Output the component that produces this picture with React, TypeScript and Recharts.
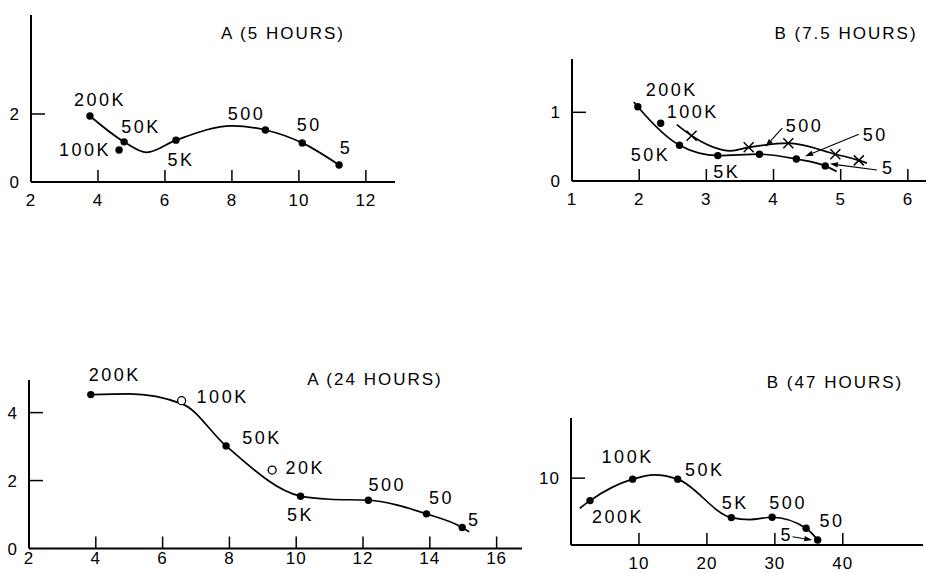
import React from 'react';
import { ComposedChart, Line, Scatter, XAxis, YAxis, ReferenceLine } from 'recharts';

// A (5 hours)
const A5_LABELS = ['200K', '100K', '50K', '5K', '500', '50', '5'];
const A5_X = [3.76, 4.63, 4.78, 6.33, 9.0, 10.1, 11.2];
const A5_Y = [1.94, 0.94, 1.18, 1.23, 1.53, 1.15, 0.5];
const A5_CURVE_X = [3.76, 4.78, 5.45, 6.33, 8.0, 9.0, 10.1, 11.2];
const A5_CURVE_Y = [1.94, 1.18, 0.87, 1.23, 1.65, 1.53, 1.15, 0.5];
const A5_X_TICKS = [2, 4, 6, 8, 10, 12];
const A5_Y_TICKS = [0, 2];

// B (7.5 hours)
const B75_LABELS = ['200K', '100K', '50K', '5K', '500', '50', '5'];
const B75_X = [1.98, 2.32, 2.6, 3.17, 3.79, 4.34, 4.77];
const B75_Y = [1.08, 0.84, 0.52, 0.37, 0.39, 0.32, 0.22];
const B75_LOWER_X = [1.92, 1.98, 2.6, 3.17, 3.79, 4.34, 4.77, 4.94];
const B75_LOWER_Y = [1.15, 1.08, 0.52, 0.37, 0.39, 0.32, 0.22, 0.14];
const B75_CROSS_X = [2.78, 3.63, 4.22, 4.92, 5.27];
const B75_CROSS_Y = [0.66, 0.49, 0.55, 0.39, 0.3];
const B75_UPPER_X = [2.56, 2.78, 3.36, 3.63, 4.22, 4.92, 5.27, 5.39];
const B75_UPPER_Y = [0.82, 0.66, 0.44, 0.49, 0.55, 0.39, 0.3, 0.26];
const B75_ARROW_FROM = [[4.13, 0.77], [5.27, 0.68], [5.54, 0.16]];
const B75_ARROW_TO = [[3.88, 0.5], [4.47, 0.36], [4.84, 0.25]];
const B75_X_TICKS = [1, 2, 3, 4, 5, 6];
const B75_Y_TICKS = [0, 1];

// A (24 hours)
const A24_LABELS = ['200K', '50K', '5K', '500', '50', '5'];
const A24_X = [3.85, 7.9, 10.13, 12.16, 13.9, 14.97];
const A24_Y = [4.53, 3.02, 1.54, 1.42, 1.02, 0.62];
const A24_OPEN_LABELS = ['100K', '20K'];
const A24_OPEN_X = [6.57, 9.28];
const A24_OPEN_Y = [4.35, 2.31];
const A24_CURVE_X = [3.85, 5.0, 6.6, 7.9, 10.13, 11.0, 12.16, 13.9, 14.97, 15.18];
const A24_CURVE_Y = [4.53, 4.55, 4.25, 3.02, 1.54, 1.45, 1.42, 1.02, 0.62, 0.49];
const A24_X_TICKS = [2, 4, 6, 8, 10, 12, 14, 16];
const A24_Y_TICKS = [0, 2, 4];

// B (47 hours)
const B47_LABELS = ['200K', '100K', '50K', '5K', '500', '50', '5'];
const B47_X = [2.8, 9.07, 15.7, 23.6, 29.6, 34.6, 36.3];
const B47_Y = [6.64, 9.85, 9.85, 4.1, 4.15, 2.5, 0.75];
const B47_CURVE_X = [1.3, 2.8, 9.07, 12.3, 15.7, 23.6, 26.3, 29.6, 34.6, 36.3];
const B47_CURVE_Y = [5.5, 6.64, 9.85, 10.5, 9.85, 4.1, 3.8, 4.15, 2.5, 0.75];
const B47_ARROW_FROM = [[32.6, 1.24]];
const B47_ARROW_TO = [[35.5, 0.75]];
const B47_X_TICKS = [10, 20, 30, 40];
const B47_Y_TICKS = [10];

const FONT = '"Liberation Sans", Arial, sans-serif';
const PAD = 40;

type Pt = { x: number; y: number; label: string };
const toPts = (xs: number[], ys: number[], labels?: string[]): Pt[] =>
  xs.map((x, i) => ({ x, y: ys[i], label: labels ? labels[i] : '' }));

// label offsets in px from the marker
const OFFSETS: Record<string, Record<string, [number, number]>> = {
  a5: { '200K': [10, -16], '100K': [-34, 0], '50K': [17, -15], '5K': [5, 20], '500': [-19, -16], '50': [7, -18], '5': [7, -17] },
  b75: { '200K': [34, -17], '100K': [32, -11], '50K': [-29, 10], '5K': [9, 16], '500': [45, -28], '50': [79, -24], '5': [63, 2] },
  a24: { '200K': [24, -20], '100K': [41, -4], '50K': [36, -8], '20K': [33, -2], '5K': [0, 19], '500': [19, -15], '50': [15, -16], '5': [12, -7] },
  b47: { '200K': [28, 16], '100K': [-5, -22], '50K': [27, -9], '5K': [4, -15], '500': [16, -14], '50': [26, -7], '5': [-31, -5] },
};

const textStyle = { fontFamily: FONT, fontSize: 18, letterSpacing: 2.5, fill: '#000' };

const xTick = (min: number, gap: number) => (p: any) => {
  const { x, y, payload } = p;
  return (
    <g>
      {payload.value !== min && <line x1={x} y1={y} x2={x} y2={y - 12} stroke="#000" strokeWidth={1.5} />}
      <text x={x} y={y + gap} textAnchor="middle" {...textStyle} fontSize={17} letterSpacing={1}>{payload.value}</text>
    </g>
  );
};

const yTick = (min: number) => (p: any) => {
  const { x, y, payload } = p;
  return (
    <g>
      {payload.value !== min && <line x1={x} y1={y} x2={x + 14} y2={y} stroke="#000" strokeWidth={1.5} />}
      <text x={x - 11} y={y + 6} textAnchor="end" {...textStyle} fontSize={17} letterSpacing={1}>{payload.value}</text>
    </g>
  );
};

const markShape = (kind: 'dot' | 'open' | 'cross', offsets: Record<string, [number, number]>) => (p: any) => {
  const { cx, cy, payload } = p;
  const off = offsets[payload.label] || [0, 0];
  return (
    <g>
      {kind === 'dot' && <circle cx={cx} cy={cy} r={3.7} fill="#000" />}
      {kind === 'open' && <circle cx={cx} cy={cy} r={4} fill="#fff" stroke="#000" strokeWidth={1.3} />}
      {kind === 'cross' && (
        <path d={`M${cx - 5},${cy - 5}L${cx + 5},${cy + 5}M${cx - 5},${cy + 5}L${cx + 5},${cy - 5}`} stroke="#000" strokeWidth={1.5} />
      )}
      {payload.label && (
        <text x={cx + off[0]} y={cy + off[1]} textAnchor="middle" dominantBaseline="central" {...textStyle}>
          {payload.label}
        </text>
      )}
    </g>
  );
};

const ArrowShape = (p: any) => {
  const { x1, y1, x2, y2 } = p;
  const a = Math.atan2(y2 - y1, x2 - x1);
  const L = 8;
  const W = 2.6;
  const bx = x2 - L * Math.cos(a);
  const by = y2 - L * Math.sin(a);
  const nx = -Math.sin(a) * W;
  const ny = Math.cos(a) * W;
  return (
    <g>
      <line x1={x1} y1={y1} x2={bx} y2={by} stroke="#000" strokeWidth={1.1} />
      <polygon points={`${x2},${y2} ${bx + nx},${by + ny} ${bx - nx},${by - ny}`} fill="#000" />
    </g>
  );
};

interface PanelProps {
  id: string;
  plot: { left: number; top: number; width: number; height: number };
  xDomain: [number, number];
  yDomain: [number, number];
  xTicks: number[];
  yTicks: number[];
  xLabelGap?: number;
  curves: Pt[][];
  dots: Pt[];
  opens?: Pt[];
  crosses?: Pt[];
  arrowFrom?: number[][];
  arrowTo?: number[][];
  title: string;
  titleAt: { x: number; y: number };
}

const Panel = (props: PanelProps) => {
  const { id, plot, xDomain, yDomain, xTicks, yTicks, xLabelGap = 24, curves, dots, opens, crosses, arrowFrom, arrowTo, title, titleAt } = props;
  const offsets = OFFSETS[id];
  return (
    <>
      <div
        style={{
          position: 'absolute', left: titleAt.x - 120, top: titleAt.y - 11, width: 240, lineHeight: '22px',
          textAlign: 'center', fontFamily: FONT, fontSize: 17, letterSpacing: 2, color: '#000', whiteSpace: 'nowrap',
        }}
      >
        {title}
      </div>
      <div style={{ position: 'absolute', left: plot.left - PAD, top: plot.top - PAD }}>
        <ComposedChart
          width={plot.width + 2 * PAD}
          height={plot.height + 2 * PAD}
          margin={{ top: PAD, right: PAD, left: 0, bottom: 0 }}
        >
          <XAxis
            type="number"
            dataKey="x"
            domain={xDomain}
            ticks={xTicks}
            interval={0}
            height={PAD}
            tickSize={0}
            tickMargin={0}
            tickLine={false}
            axisLine={{ stroke: '#000', strokeWidth: 2 }}
            tick={xTick(xDomain[0], xLabelGap)}
          />
          <YAxis
            type="number"
            dataKey="y"
            domain={yDomain}
            ticks={yTicks}
            interval={0}
            width={PAD}
            tickSize={0}
            tickMargin={0}
            tickLine={false}
            axisLine={{ stroke: '#000', strokeWidth: 2 }}
            tick={yTick(yDomain[0])}
          />
          {curves.map((c, i) => (
            <Line
              key={`curve-${i}`}
              data={c}
              dataKey="y"
              type="monotone"
              stroke="#000"
              strokeWidth={1.7}
              dot={false}
              activeDot={false}
              isAnimationActive={false}
            />
          ))}
          {(arrowFrom || []).map((f, i) => (
            <ReferenceLine
              key={`arrow-${i}`}
              segment={[{ x: f[0], y: f[1] }, { x: arrowTo![i][0], y: arrowTo![i][1] }]}
              shape={ArrowShape}
              ifOverflow="visible"
            />
          ))}
          <Scatter data={dots} shape={markShape('dot', offsets)} isAnimationActive={false} />
          {opens && <Scatter data={opens} shape={markShape('open', offsets)} isAnimationActive={false} />}
          {crosses && <Scatter data={crosses} shape={markShape('cross', offsets)} isAnimationActive={false} />}
        </ComposedChart>
      </div>
    </>
  );
};

export default function App() {
  return (
    <div style={{ position: 'absolute', left: 0, top: 0, width: 926, height: 573, background: '#fff', overflow: 'hidden' }}>
      <Panel
        id="a5"
        plot={{ left: 31, top: 15, width: 364, height: 167 }}
        xDomain={[2, 12.87]}
        yDomain={[0, 4.91]}
        xTicks={A5_X_TICKS}
        yTicks={A5_Y_TICKS}
        curves={[toPts(A5_CURVE_X, A5_CURVE_Y)]}
        dots={toPts(A5_X, A5_Y, A5_LABELS)}
        title="A (5 HOURS)"
        titleAt={{ x: 283, y: 34 }}
      />
      <Panel
        id="b75"
        plot={{ left: 572, top: 59, width: 354, height: 122 }}
        xDomain={[1, 6.27]}
        yDomain={[0, 1.776]}
        xTicks={B75_X_TICKS}
        yTicks={B75_Y_TICKS}
        curves={[toPts(B75_LOWER_X, B75_LOWER_Y), toPts(B75_UPPER_X, B75_UPPER_Y)]}
        dots={toPts(B75_X, B75_Y, B75_LABELS)}
        crosses={toPts(B75_CROSS_X, B75_CROSS_Y)}
        arrowFrom={B75_ARROW_FROM}
        arrowTo={B75_ARROW_TO}
        title="B (7.5 HOURS)"
        titleAt={{ x: 846, y: 34 }}
      />
      <Panel
        id="a24"
        plot={{ left: 29, top: 380, width: 493, height: 168.5 }}
        xDomain={[2, 16.76]}
        yDomain={[0, 4.96]}
        xTicks={A24_X_TICKS}
        yTicks={A24_Y_TICKS}
        xLabelGap={15}
        curves={[toPts(A24_CURVE_X, A24_CURVE_Y)]}
        dots={toPts(A24_X, A24_Y, A24_LABELS)}
        opens={toPts(A24_OPEN_X, A24_OPEN_Y, A24_OPEN_LABELS)}
        title="A (24 HOURS)"
        titleAt={{ x: 375, y: 380 }}
      />
      <Panel
        id="b47"
        plot={{ left: 571, top: 418, width: 352, height: 127 }}
        xDomain={[0, 51.8]}
        yDomain={[0, 19]}
        xTicks={B47_X_TICKS}
        yTicks={B47_Y_TICKS}
        curves={[toPts(B47_CURVE_X, B47_CURVE_Y)]}
        dots={toPts(B47_X, B47_Y, B47_LABELS)}
        arrowFrom={B47_ARROW_FROM}
        arrowTo={B47_ARROW_TO}
        title="B (47 HOURS)"
        titleAt={{ x: 835, y: 383 }}
      />
    </div>
  );
}
